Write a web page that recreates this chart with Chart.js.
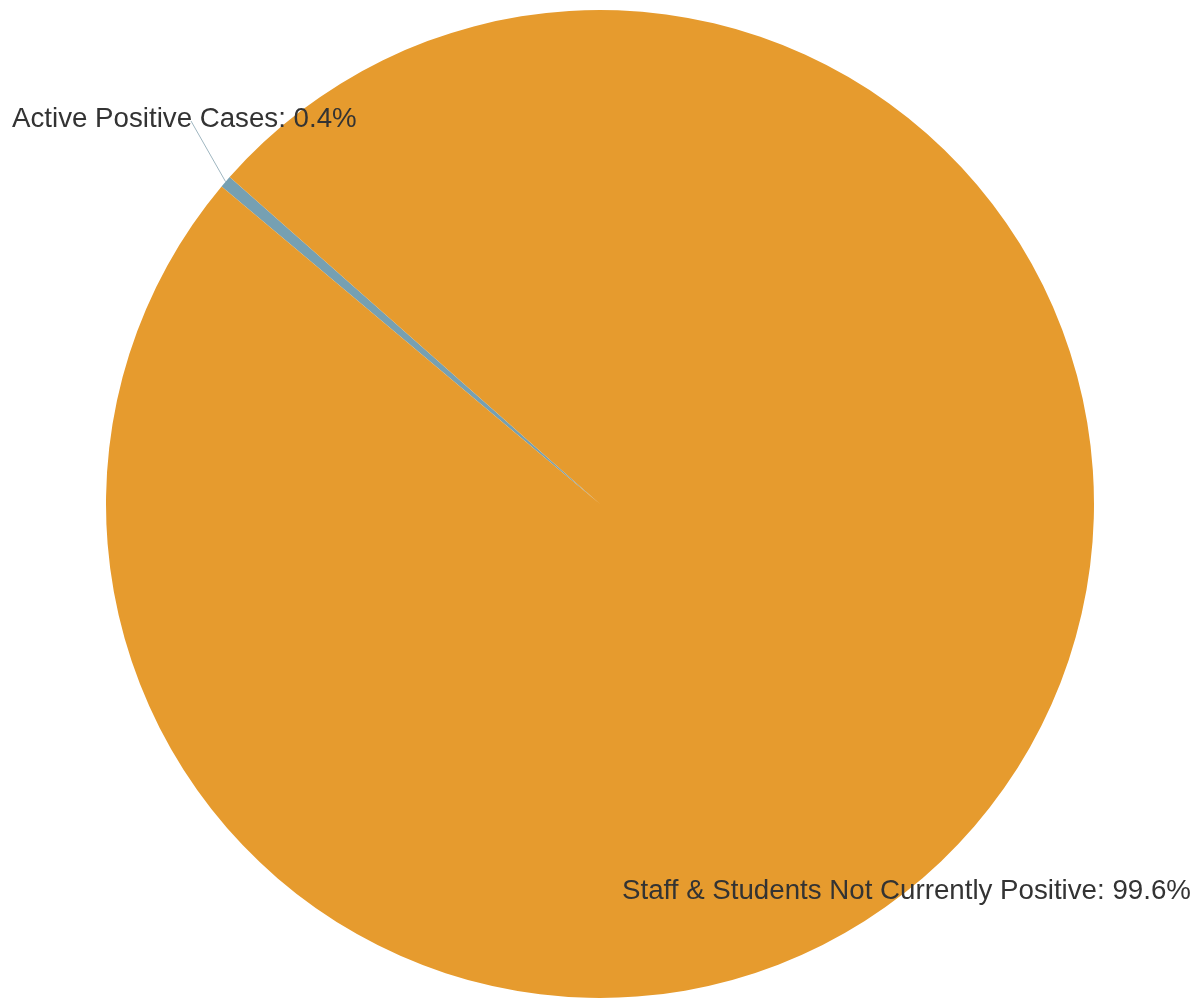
<!DOCTYPE html>
<html>
<head>
<meta charset="utf-8">
<script src="https://cdn.jsdelivr.net/npm/chart.js@4"></script>
<style>
  body { margin: 0; background: #fff; }
  #wrap { width: 1203px; height: 1003px; position: relative; }
</style>
</head>
<body>
<div id="wrap"><canvas id="pieChart" width="1203" height="1003"></canvas></div>
<script>
// Chart data
const categories = ['Active Positive Cases', 'Staff & Students Not Currently Positive'];
const percentValues = [0.4, 99.6];
const sliceColors = ['#76a0b2', '#e69b2e'];

// where each outside label sits (text start x, baseline y)
const labelSpots = [
    { x: 12, y: 127, lineToX: 191, lineToY: 121 },
    { x: 622, y: 899, lineToX: null, lineToY: null }
];

const outsideLabels = {
    id: 'outsideLabels',
    afterDraw(chart) {
        const ctx = chart.ctx;
        const arcs = chart.getDatasetMeta(0).data;
        ctx.save();
        arcs.forEach((arc, i) => {
            const spot = labelSpots[i];
            const p = arc.getProps(['x', 'y', 'startAngle', 'endAngle', 'outerRadius'], true);
            const mid = (p.startAngle + p.endAngle) / 2;
            if (spot.lineToX !== null) {
                ctx.strokeStyle = '#9fb6c0';
                ctx.lineWidth = 1;
                ctx.beginPath();
                ctx.moveTo(p.x + Math.cos(mid) * p.outerRadius, p.y + Math.sin(mid) * p.outerRadius);
                ctx.lineTo(spot.lineToX, spot.lineToY);
                ctx.stroke();
            }
            ctx.fillStyle = '#333333';
            ctx.font = '27.7px "Liberation Sans", Arial, sans-serif';
            ctx.textBaseline = 'alphabetic';
            ctx.textAlign = 'left';
            ctx.fillText(categories[i] + ': ' + percentValues[i].toFixed(1) + '%', spot.x, spot.y);
        });
        ctx.restore();
    }
};

new Chart(document.getElementById('pieChart').getContext('2d'), {
    type: 'pie',
    data: {
        labels: categories,
        datasets: [{
            data: percentValues,
            backgroundColor: sliceColors,
            borderWidth: 0
        }]
    },
    options: {
        responsive: false,
        animation: false,
        rotation: -50,
        layout: {
            padding: { left: 106, right: 109, top: 10, bottom: 5 }
        },
        plugins: {
            legend: { display: false },
            tooltip: { enabled: false }
        }
    },
    plugins: [outsideLabels]
});
</script>
</body>
</html>
